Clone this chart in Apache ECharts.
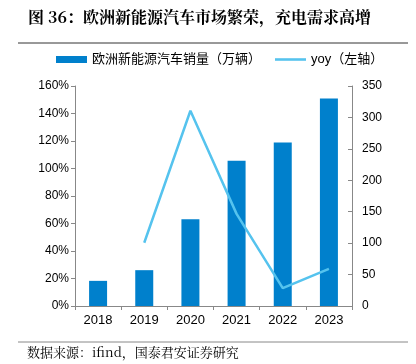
<!DOCTYPE html>
<html><head><meta charset="utf-8">
<script src="https://cdn.jsdelivr.net/npm/echarts@6/dist/echarts.min.js"></script>
<style>html,body{margin:0;padding:0;background:#fff}#c{width:416px;height:364px}</style>
</head><body><div id="c"></div>
<script>
var categories = ['2018','2019','2020','2021','2022','2023'];
var salesValues = [40, 57, 138, 231, 260, 330];
var yoyValues = [null, 0.46, 1.42, 0.67, 0.13, 0.27];
var leftTicks = {min: 0, max: 1.6, interval: 0.2};
var rightTicks = {min: 0, max: 350, interval: 50};
var barName = '欧洲新能源汽车销量（万辆）';
var lineName = 'yoy（左轴）';
var titleText = '图 36：欧洲新能源汽车市场繁荣，充电需求高增';
var sourceText = '数据来源：ifind，国泰君安证券研究';

var font = '"Liberation Sans", Arial, "Noto Sans CJK SC", sans-serif';
var chart = echarts.init(document.getElementById('c'), null, {renderer: 'canvas'});
chart.setOption({
  animation: false,
  textStyle: {fontFamily: font},
  graphic: [
    {type: 'text', left: 28, top: 9, style: {text: titleText, font: 'bold 16px "Noto Serif CJK SC", "Noto Sans CJK SC", serif', fill: '#000'}},
    {type: 'line', shape: {x1: 18, y1: 43, x2: 408, y2: 43}, style: {stroke: '#333', lineWidth: 1}},
    {type: 'line', shape: {x1: 18, y1: 342, x2: 408, y2: 342}, style: {stroke: '#888', lineWidth: 1}},
    {type: 'text', left: 27, top: 346, style: {text: sourceText, font: '13px "Noto Serif CJK SC", "Noto Sans CJK SC", serif', fill: '#000'}}
  ],
  legend: {
    top: 48, left: 51,
    itemWidth: 31, itemHeight: 7, itemGap: 14,
    textStyle: {fontSize: 13, color: '#000', fontFamily: font},
    data: [{name: barName, icon: 'rect'}, {name: lineName, icon: 'path://M0,0h12v1h-12z'}]
  },
  grid: {left: 75, right: 64, top: 86, bottom: 58},
  xAxis: {
    type: 'category', data: categories,
    axisLine: {lineStyle: {color: '#888'}},
    axisTick: {show: true, length: 4, lineStyle: {color: '#888'}},
    axisLabel: {color: '#000', fontSize: 13, margin: 8}
  },
  yAxis: [
    {type: 'value', min: leftTicks.min, max: leftTicks.max, interval: leftTicks.interval,
     axisLine: {show: true, lineStyle: {color: '#888'}},
     axisTick: {show: true, length: 4, lineStyle: {color: '#888'}},
     splitLine: {show: false},
     axisLabel: {color: '#000', fontSize: 12, margin: 6, formatter: function(v){return Math.round(v*100)+'%';}}},
    {type: 'value', min: rightTicks.min, max: rightTicks.max, interval: rightTicks.interval,
     axisLine: {show: true, lineStyle: {color: '#888'}},
     axisTick: {show: true, inside: true, length: 4, lineStyle: {color: '#888'}},
     splitLine: {show: false},
     axisLabel: {color: '#000', fontSize: 12, margin: 10}}
  ],
  series: [
    {name: barName, type: 'bar', yAxisIndex: 1, data: salesValues, barWidth: 18,
     itemStyle: {color: '#0080CC'}},
    {name: lineName, type: 'line', yAxisIndex: 0, data: yoyValues, symbol: 'none', showSymbol: false,
     connectNulls: false,
     lineStyle: {color: '#55C3EE', width: 2.5}, itemStyle: {color: '#55C3EE'}}
  ]
});
</script></body></html>
